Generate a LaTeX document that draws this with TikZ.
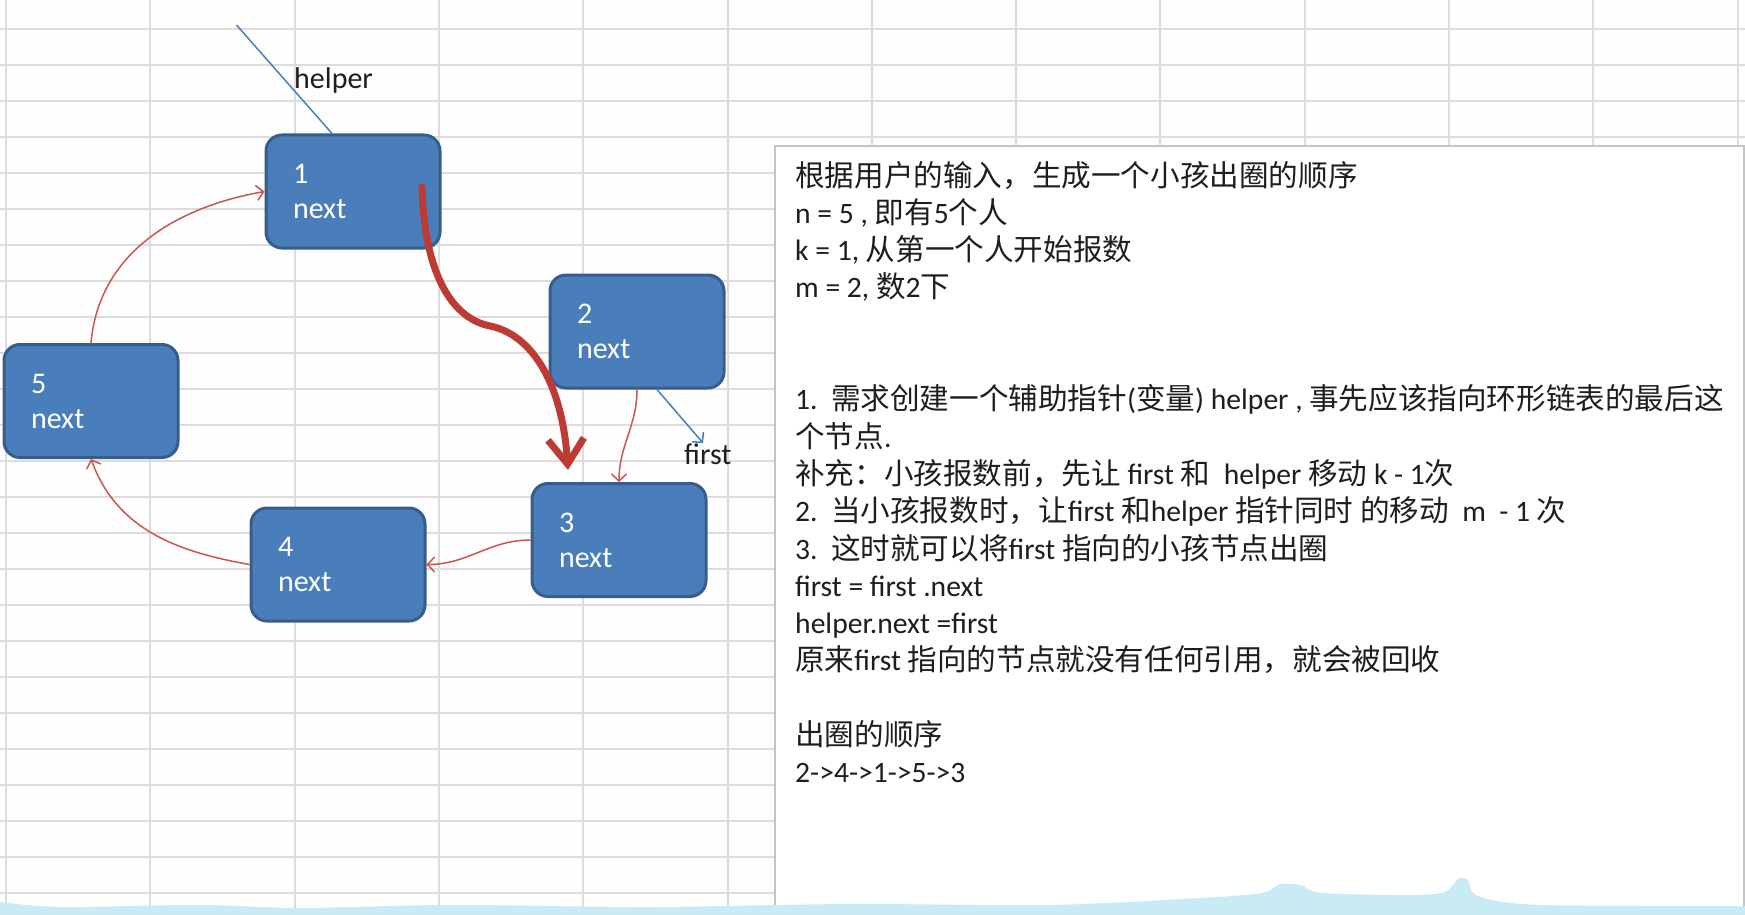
\documentclass[tikz,border=0pt]{standalone}
\usepackage{fontspec}
\setmainfont{Carlito}
\newfontfamily\cjkfont{Noto Sans CJK SC}
\newcommand\C[1]{{\cjkfont #1}}
\usetikzlibrary{arrows.meta}
\definecolor{nodefill}{HTML}{4A7EBB}
\definecolor{nodeedge}{HTML}{385D8A}
\definecolor{redthin}{HTML}{C9564F}
\definecolor{redthick}{HTML}{BD3B33}
\definecolor{bluethin}{HTML}{4A7EBB}
\definecolor{gridc}{HTML}{DCDCDC}
\definecolor{textc}{HTML}{1E1E1E}
\definecolor{wavec}{HTML}{C9EBF6}
\definecolor{bgc}{HTML}{FDFEFD}
\definecolor{panelc}{HTML}{C4C4C4}
\begin{document}
\begin{tikzpicture}[x=1pt,y=1pt,
  listnode/.style={draw=nodeedge, line width=3pt, fill=nodefill, rounded corners=16pt,
    minimum width=174pt, minimum height=113pt, text width=120pt, inner xsep=27pt,
    align=left, text=white, font=\fontsize{30}{35}\selectfont},
  gridline/.style={draw=gridc, line width=2pt},
  panel/.style={draw=panelc, line width=1.5pt, fill=white},
  txt/.style={anchor=base west, inner sep=0pt, text=textc, font=\fontsize{29.6}{37.3}\selectfont},
  lbl/.style={anchor=base west, inner sep=0pt, text=textc, font=\fontsize{30}{35}\selectfont},
  redarrow/.style={draw=redthin, line width=1.5pt, -{Straight Barb[length=7pt,width=15pt]}},
  bigarrow/.style={draw=redthick, line width=7pt, line cap=round, -{Straight Barb[length=25pt,width=36pt]}},
  blueline/.style={draw=bluethin, line width=1.5pt},
  bluearrow/.style={draw=bluethin, line width=1.5pt, -{Straight Barb[length=7pt,width=15pt]}}
]
\useasboundingbox (0,0) rectangle (1745,-915);
\fill[bgc] (0,0) rectangle (1745,-915);
% spreadsheet grid
\foreach \k in {0,...,24} \draw[gridline] (0,{-29-36*\k}) -- (1745,{-29-36*\k});
\foreach \k in {0,...,12} \draw[gridline] ({6+144.3*\k},0) -- ({6+144.3*\k},-915);
% text panel
\draw[panel] (775,-146) rectangle (1744,-918);

% list nodes
\node[listnode] (n1) at (353,-191.5) {1\\next};
\node[listnode] (n2) at (637,-331.5) {2\\next};
\node[listnode] (n3) at (619,-540) {3\\next};
\node[listnode] (n4) at (338,-564.5) {4\\next};
\node[listnode] (n5) at (91,-401) {5\\next};

% pointer labels
\node[lbl] (lh) at (294,-89) {helper};
\node[lbl] (lf) at (684,-464) {first};
\coordinate (hp) at (236.5,-25);
\coordinate (fp) at (703,-443);
\coordinate (c1) at (422,-187);
\coordinate (c3) at (568,-470);

% connectors
\draw[blueline] (hp) -- ([xshift=-21pt]n1.north);
\draw[bluearrow] ([xshift=20pt]n2.south) -- (fp);
\draw[redarrow] (n5.north) to[out=85,in=190] (n1.west);
\draw[redarrow] (n2.south) to[out=-90,in=90] (n3.north);
\draw[redarrow] (n3.west) to[out=180,in=0] (n4.east);
\draw[redarrow] (n4.west) to[out=170,in=-70] (n5.south);
\draw[bigarrow] (c1) .. controls (424,-270) and (450,-318) .. (490,-326)
   .. controls (530,-334) and (562,-380) .. (c3);

% explanation text
\node[txt] (t1) at (795,-186) {\C{根据用户的输入，生成一个小孩出圈的顺序}};
\node[txt] (t2) at (795,-223.3) {n = 5 , \C{即有}5\C{个人}};
\node[txt] (t3) at (795,-260.6) {k = 1, \C{从第一个人开始报数}};
\node[txt] (t4) at (795,-297.9) {m = 2, \C{数}2\C{下}};
\node[txt] (t7) at (795,-409.8) {1.\ \ \C{需求创建一个辅助指针}(\C{变量}) helper , \C{事先应该指向环形链表的最后这}};
\node[txt] (t8) at (795,-447.1) {\C{个节点}.};
\node[txt] (t9) at (795,-484.4) {\C{补充：小孩报数前，先让} first \C{和}\ \ helper \C{移动} k - 1\C{次}};
\node[txt] (t10) at (795,-521.7) {2.\ \ \C{当小孩报数时，让}first \C{和}helper \C{指针同时} \C{的移动}\ \ m\ \ - 1 \C{次}};
\node[txt] (t11) at (795,-559) {3.\ \ \C{这时就可以将}first \C{指向的小孩节点出圈}};
\node[txt] (t12) at (795,-596.3) {first = first .next};
\node[txt] (t13) at (795,-633.6) {helper.next =first};
\node[txt] (t14) at (795,-670.9) {\C{原来}first \C{指向的节点就没有任何引用，就会被回收}};
\node[txt] (t16) at (795,-745.5) {\C{出圈的顺序}};
\node[txt] (t17) at (795,-782.8) {2->4->1->5->3};

% light wave at the bottom
\fill[wavec] (0,-915) -- plot[smooth] coordinates {(0,-902) (60,-907) (200,-905) (300,-908) (450,-905) (650,-907) (850,-904) (1050,-905) (1200,-898) (1262,-893) (1280,-884) (1300,-885) (1322,-893) (1410,-895) (1445,-892) (1458,-879) (1468,-880) (1478,-896) (1540,-905) (1745,-906)} -- (1745,-915) -- cycle;
\end{tikzpicture}
\end{document}
